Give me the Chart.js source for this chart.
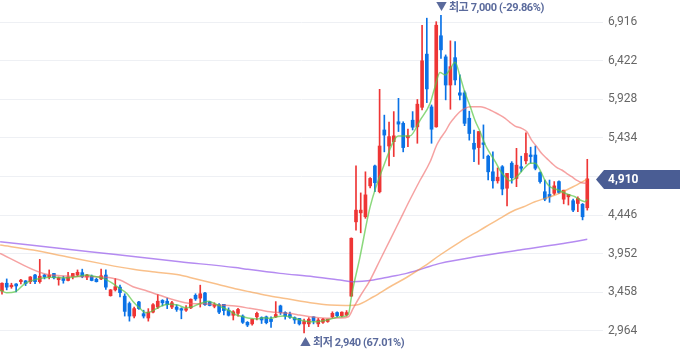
<!DOCTYPE html>
<html><head><meta charset="utf-8">
<script src="https://cdn.jsdelivr.net/npm/chart.js@4.4.1/dist/chart.umd.min.js"></script>
<style>html,body{margin:0;padding:0;background:#fff;overflow:hidden}canvas{display:block}</style>
</head><body>
<canvas id="c" width="680" height="358"></canvas>
<script>
const opens  = [3475,3575,3530,3565,3595,3605,3595,3680,3595,3680,3655,3700,3620,3635,3610,3660,3680,3710,3655,3665,3625,3630,3680,3415,3490,3525,3410,3315,3155,3335,3185,3130,3205,3270,3355,3345,3270,3270,3250,3230,3260,3420,3385,3450,3335,3280,3300,3305,3230,3165,3190,3155,3075,3055,3145,3135,3145,3115,3145,3285,3200,3175,3135,3125,3055,3055,3145,3055,3075,3085,3145,3200,3160,3170,3410,4360,4475,4425,4820,5075,4745,5535,5330,5385,5640,5620,5435,5660,5575,5825,6505,5830,5575,6740,6470,6110,6460,6010,6010,5685,5365,5310,5370,5200,5000,4885,5065,4790,5110,4915,5065,5140,5215,5215,4990,4745,4710,4725,4875,4650,4680,4630,4595,4585,4540];
const highs  = [3580,3630,3575,3570,3625,3610,3660,3690,3880,3690,3745,3700,3655,3665,3715,3700,3745,3755,3690,3680,3640,3755,3745,3495,3635,3550,3440,3335,3270,3345,3230,3250,3315,3430,3365,3385,3345,3300,3260,3290,3375,3440,3550,3460,3345,3325,3315,3305,3260,3225,3255,3170,3085,3115,3205,3145,3155,3145,3340,3295,3210,3205,3145,3125,3115,3135,3145,3125,3125,3115,3210,3210,3210,3225,4155,5075,4730,5000,4925,5085,6055,5725,5635,5770,5940,5640,5545,5770,5925,6875,6965,5855,6920,7000,6495,6675,6665,6240,6035,5775,5535,5515,5600,5215,5255,5050,5080,4980,5130,5300,5200,5500,5315,5330,5000,4895,4895,4875,4885,4765,4710,4650,4680,4595,5160];
const lows   = [3435,3490,3510,3465,3565,3545,3570,3570,3575,3630,3630,3630,3550,3575,3605,3630,3665,3645,3620,3605,3590,3620,3495,3410,3475,3400,3155,3090,3130,3240,3130,3090,3195,3250,3285,3250,3250,3215,3120,3215,3250,3355,3270,3290,3285,3260,3185,3170,3155,3105,3155,3060,3020,3040,3105,3060,3055,3010,3135,3175,3115,3125,3060,3040,2940,3020,3055,3020,3060,3075,3135,3145,3145,3155,3405,4255,4220,4405,4795,4745,4730,5255,5075,5195,5515,5255,5320,5535,5365,5790,5885,5365,5570,6450,5920,5800,6110,5920,5590,5405,5130,5095,5170,4895,4790,4855,4705,4565,4855,4810,5000,5100,5110,5025,4855,4630,4610,4705,4725,4590,4575,4490,4490,4385,4510];
const closes = [3575,3525,3550,3540,3610,3570,3655,3595,3665,3655,3680,3645,3645,3610,3655,3700,3715,3660,3680,3610,3595,3670,3525,3490,3530,3455,3215,3155,3250,3250,3155,3205,3300,3345,3325,3300,3325,3240,3230,3250,3370,3375,3440,3300,3290,3300,3205,3225,3165,3210,3240,3075,3040,3115,3190,3105,3070,3085,3175,3200,3155,3140,3105,3055,3085,3115,3095,3105,3115,3115,3190,3160,3205,3200,4150,4510,4510,4705,4915,4860,5330,5470,5450,5460,5610,5310,5460,5570,5865,6420,6060,5545,6875,6560,6110,6345,6175,5980,5620,5490,5290,5515,5350,5000,4885,4930,4780,4980,4925,5085,5045,5235,5195,5045,4875,4650,4680,4820,4735,4765,4710,4510,4660,4425,4910];

// moving-average lines: [candle index, price]
const ma5 = [[-0.4,3488],[1.0,3453],[2.8,3466],[4.9,3574],[7.3,3625],[10.2,3651],[13.7,3645],[16.5,3667],[17.9,3680],[20,3658],[21.5,3637],[23.2,3582],[24.6,3523],[26.4,3446],[27.8,3338],[29.2,3254],[30.5,3198],[31.7,3215],[33.5,3275],[35.3,3305],[37.4,3292],[38.8,3262],[40.2,3271],[41.9,3313],[43.7,3343],[45.1,3313],[46.5,3271],[48.3,3220],[49.7,3168],[51.1,3146],[52.5,3126],[54.0,3117],[55.4,3134],[56.8,3126],[58.2,3146],[59.6,3155],[61.0,3146],[62.4,3117],[63.8,3095],[65.3,3083],[66.7,3083],[68.1,3095],[69.5,3113],[70.9,3139],[72.3,3150],[73.4,3180],[74.1,3430],[75.8,3900],[78.0,4554],[80.8,5065],[84.0,5458],[86.4,5458],[88.6,5662],[90.7,5876],[91.7,6080],[92.8,6270],[93.9,6238],[94.9,6310],[96.0,6400],[97.0,6230],[98.1,6010],[99.2,5835],[100.2,5660],[101.3,5513],[102.3,5355],[103.4,5235],[104.5,5130],[105.5,5020],[106.6,4935],[107.6,4885],[108.7,4916],[109.7,4980],[110.8,5055],[111.9,5108],[112.9,5110],[114.0,5023],[115.0,4895],[116.1,4809],[117.2,4780],[118.2,4758],[119.3,4725],[120.3,4703],[121.4,4681],[122.5,4639],[123.5,4618],[124.0,4648]];
const ma20 = [[-0.4,3957],[8.75,3700],[13.7,3667],[17.2,3658],[20.8,3658],[23.5,3638],[25,3616],[27.75,3530],[30.3,3484],[32.4,3441],[34.5,3398],[36.7,3356],[38.8,3326],[40.9,3313],[43.0,3313],[45.1,3300],[47.2,3292],[49.4,3283],[52.5,3254],[54.7,3232],[56.8,3210],[58.9,3198],[61.0,3190],[63.1,3168],[65.3,3146],[67.4,3134],[69.5,3126],[71.6,3130],[73.4,3146],[74.4,3254],[75.8,3402],[78.0,3616],[80.1,3872],[82.2,4127],[84.3,4383],[86.4,4639],[88.6,4895],[90.7,5129],[92.1,5343],[92.8,5419],[93.9,5513],[94.9,5620],[96.0,5704],[97.0,5768],[98.1,5812],[99.2,5832],[101.3,5832],[102.3,5819],[103.4,5790],[104.4,5761],[105.5,5726],[106.6,5684],[107.6,5633],[108.7,5585],[110.1,5556],[111.2,5513],[112.2,5406],[113.3,5321],[114.3,5236],[115.4,5172],[116.5,5108],[117.5,5057],[118.6,5023],[119.6,4980],[120.7,4937],[121.7,4895],[122.8,4860],[123.9,4853]];
const ma60 = [[-0.4,4063],[6.6,3999],[13.7,3914],[20.8,3829],[27.8,3753],[32.4,3718],[37.7,3680],[40.9,3632],[44.8,3574],[49.4,3505],[52.5,3466],[56.8,3411],[61.0,3369],[65.3,3326],[69.5,3296],[72.7,3290],[75.1,3296],[78.7,3402],[82.2,3530],[85.7,3648],[89.3,3786],[92.8,3936],[97.0,4102],[101.3,4255],[104.9,4383],[108.7,4511],[110.4,4550],[112.9,4617],[116.1,4681],[117.2,4703],[121.0,4809],[123.9,4904]];
const ma120 = [[-0.4,4106],[18.6,3978],[37.7,3850],[49.4,3775],[51.8,3755],[58.9,3701],[66.0,3658],[71.6,3616],[74.4,3594],[78.7,3616],[82.2,3658],[85.7,3701],[89.3,3765],[92.8,3829],[101.3,3923],[109.7,4000],[118.2,4076],[124.0,4136]];

const yTicks = [2964,3458,3952,4446,4940,5434,5928,6422,6916];

const UP = '#ee3535', DOWN = '#0a72e6';
const candleColor = c => closes[c.dataIndex] >= opens[c.dataIndex] ? UP : DOWN;
const fmt = v => v.toLocaleString('en-US');

const lineDs = (arr, color) => ({
  type: 'line', data: arr.map(([x, y]) => ({x, y})), borderColor: color, borderWidth: 1.5,
  pointRadius: 0, cubicInterpolationMode: 'monotone', fill: false, order: 0
});

const overlay = {
  id: 'overlay',
  afterDraw(chart) {
    const {ctx, scales: {x, y}} = chart;
    const last = closes[closes.length - 1];
    let hiI = 0, loI = 0;
    highs.forEach((v, i) => { if (v > highs[hiI]) hiI = i; });
    lows.forEach((v, i) => { if (v < lows[loI]) loI = i; });
    const hi = highs[hiI], lo = lows[loI];
    ctx.save();
    ctx.font = 'bold 11px Roboto, "Noto Sans CJK KR", sans-serif';
    if ('letterSpacing' in ctx) ctx.letterSpacing = '-0.4px';
    ctx.fillStyle = '#5a6a9c';
    ctx.textBaseline = 'middle';
    ctx.textAlign = 'left';
    const pHi = ((last - hi) / hi * 100).toFixed(2);
    const pLo = ((last - lo) / lo * 100).toFixed(2);
    ctx.fillText('▼ 최고 ' + fmt(hi) + ' (' + pHi + '%)', x.getPixelForValue(hiI) - 5, y.getPixelForValue(hi) - 7);
    ctx.fillText('▲ 최저 ' + fmt(lo) + ' (' + pLo + '%)', x.getPixelForValue(loI) - 4, y.getPixelForValue(lo) + 10);
    if ('letterSpacing' in ctx) ctx.letterSpacing = '0px';
    // current price tag
    const py = Math.round(y.getPixelForValue(last)) + 0.5;
    const left = chart.chartArea.right - 7;
    ctx.fillStyle = '#4a5d94';
    ctx.beginPath();
    ctx.moveTo(left, py);
    ctx.lineTo(left + 8, py - 9.5);
    ctx.lineTo(680, py - 9.5);
    ctx.lineTo(680, py + 9.5);
    ctx.lineTo(left + 8, py + 9.5);
    ctx.closePath();
    ctx.fill();
    ctx.fillStyle = '#ffffff';
    ctx.font = 'bold 12px Roboto, sans-serif';
    ctx.fillText(fmt(last), left + 12, py + 0.5);
    ctx.restore();
  }
};

new Chart(document.getElementById('c'), {
  type: 'bar',
  data: {
    datasets: [
      lineDs(ma5, 'rgba(90,200,70,0.7)'),
      lineDs(ma20, 'rgba(240,100,100,0.6)'),
      lineDs(ma60, 'rgba(245,150,60,0.6)'),
      lineDs(ma120, 'rgba(150,90,235,0.7)'),
      { data: opens.map((o, i) => ({x: i, y: [o, closes[i]]})), backgroundColor: candleColor,
        barThickness: 3, grouped: false, borderWidth: 0, minBarLength: 1.5, order: 1 },
      { data: highs.map((h, i) => ({x: i, y: [lows[i], h]})), backgroundColor: candleColor,
        barThickness: 1, grouped: false, borderWidth: 0, order: 2 }
    ]
  },
  options: {
    responsive: false, animation: false, devicePixelRatio: 1,
    layout: {padding: 0},
    plugins: {legend: {display: false}, tooltip: {enabled: false}},
    scales: {
      x: {type: 'linear', display: false, min: -0.4237, max: 127.33, offset: false, grid: {display: false}},
      y: {
        position: 'right', min: 2618.6, max: 7197.4,
        grid: {color: '#eef0f4', drawTicks: false}, border: {display: false},
        ticks: {padding: 5, crossAlign: 'near', color: '#666', font: {family: 'Roboto', size: 12}, callback: v => fmt(v)},
        afterBuildTicks: s => { s.ticks = yTicks.map(v => ({value: v})); },
        afterFit: s => { s.width = 77; s.paddingTop = 0; s.paddingBottom = 0; }
      }
    }
  },
  plugins: [overlay]
});
</script>
</body></html>
